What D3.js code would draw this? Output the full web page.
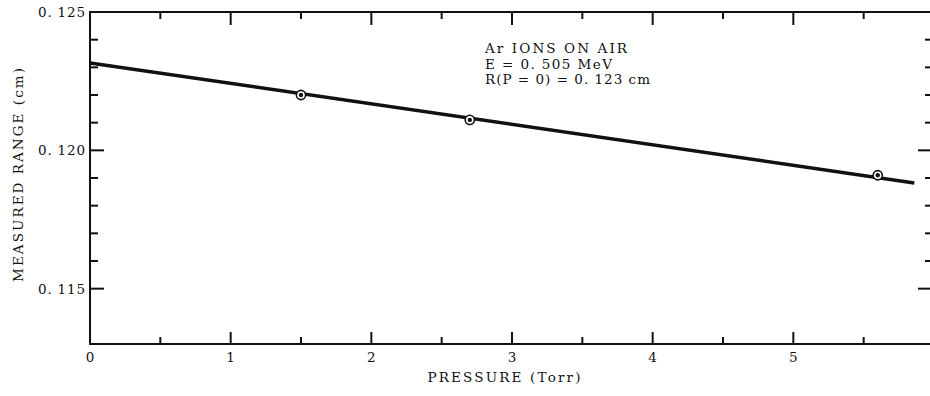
<!DOCTYPE html>
<html>
<head>
<meta charset="utf-8">
<script src="https://cdn.jsdelivr.net/npm/d3@7"></script>
<style>
  body { margin: 0; background: #fff; }
  svg { display: block; }
  text { font-family: "DejaVu Serif", "Liberation Serif", serif; fill: #111; }
</style>
</head>
<body>
<div id="chart"></div>
<script>
const width = 930
const height = 396

// measured points
const pressure = [1.5, 2.7, 5.6]
const range = [0.1220, 0.1211, 0.1191]

// fitted straight line (ends)
const fitP = [0, 5.86]
const fitR = [0.12316, 0.11882]

const xTickLabels = [0, 1, 2, 3, 4, 5, 6]
const yTickLabels = [0.115, 0.120, 0.125]
const notes = ["Ar IONS ON AIR", "E = 0.505 MeV", "R(P = 0) = 0.123 cm"]
const noteWidths = [142, 127, 165]

const x = d3.scaleLinear().domain([0, 6]).range([90, 934])
const y = d3.scaleLinear().domain([0.113, 0.125]).range([344, 12])

const svg = d3.select("#chart").append("svg")
    .attr("width", width)
    .attr("height", height)

const ink = "#111"

// frame
svg.append("path")
    .attr("d", `M${x(6) + 2},${y(0.125)} H${x(0)} V${y(0.113)} H${x(6) + 2}`)
    .attr("fill", "none")
    .attr("stroke", ink)
    .attr("stroke-width", 2)

// x ticks every 0.5, bottom and top, pointing inward
const xTicks = d3.range(0, 6.01, 0.5)
svg.append("g").selectAll("line")
    .data(xTicks.filter(d => d > 0 && d < 6))
    .enter().append("line")
    .attr("x1", d => x(d)).attr("x2", d => x(d))
    .attr("y1", y(0.113))
    .attr("y2", d => y(0.113) - (d % 1 === 0 ? 12 : 7))
    .attr("stroke", ink).attr("stroke-width", 2)

svg.append("g").selectAll("line")
    .data(xTicks.filter(d => d > 0 && d < 6))
    .enter().append("line")
    .attr("x1", d => x(d)).attr("x2", d => x(d))
    .attr("y1", y(0.125))
    .attr("y2", d => y(0.125) + (d % 1 === 0 ? 13 : 7))
    .attr("stroke", ink).attr("stroke-width", 2)

// y ticks every 0.001 from 0.115, left and right
const yTicks = d3.range(115, 125).map(d => d / 1000)
const isMajor = d => Math.round(d * 1000) % 5 === 0

svg.append("g").selectAll("line")
    .data(yTicks)
    .enter().append("line")
    .attr("x1", x(0))
    .attr("x2", d => x(0) + (isMajor(d) ? 14 : 8))
    .attr("y1", d => y(d)).attr("y2", d => y(d))
    .attr("stroke", ink).attr("stroke-width", 2)

svg.append("g").selectAll("line")
    .data(yTicks)
    .enter().append("line")
    .attr("x1", x(6))
    .attr("x2", d => x(6) - (isMajor(d) ? 16 : 9))
    .attr("y1", d => y(d)).attr("y2", d => y(d))
    .attr("stroke", ink).attr("stroke-width", 2)

// tick labels
svg.append("g").selectAll("text")
    .data(xTickLabels)
    .enter().append("text")
    .attr("x", d => x(d))
    .attr("y", y(0.113) + 18)
    .attr("text-anchor", "middle")
    .attr("font-size", 13.5)
    .text(d => d)

svg.append("g").selectAll("text")
    .data(yTickLabels)
    .enter().append("text")
    .attr("x", x(0) - 5)
    .attr("y", d => y(d) + 5)
    .attr("text-anchor", "end")
    .attr("font-size", 13.5)
    .attr("textLength", 47)
    .attr("lengthAdjust", "spacing")
    .text(d => d3.format(".3f")(d).replace(".", ". "))

// axis titles
svg.append("text")
    .attr("x", 504)
    .attr("y", 382)
    .attr("text-anchor", "middle")
    .attr("font-size", 13.5)
    .attr("textLength", 153)
    .attr("lengthAdjust", "spacing")
    .text("PRESSURE (Torr)")

svg.append("text")
    .attr("transform", "translate(23,175) rotate(-90)")
    .attr("text-anchor", "middle")
    .attr("font-size", 13.5)
    .attr("textLength", 214)
    .attr("lengthAdjust", "spacing")
    .text("MEASURED RANGE (cm)")

// annotation
svg.append("g").selectAll("text")
    .data(notes)
    .enter().append("text")
    .attr("x", 485)
    .attr("y", (d, i) => 53 + i * 15.5)
    .attr("font-size", 13.5)
    .attr("textLength", (d, i) => noteWidths[i])
    .attr("lengthAdjust", "spacing")
    .text(d => d.replace("0.", "0. "))

// fitted line
svg.append("path")
    .datum(d3.zip(fitP, fitR))
    .attr("d", d3.line().x(d => x(d[0])).y(d => y(d[1])))
    .attr("fill", "none")
    .attr("stroke", ink)
    .attr("stroke-width", 3.5)

// data points: ringed dots
const pts = svg.append("g").selectAll("g")
    .data(d3.zip(pressure, range))
    .enter().append("g")
    .attr("transform", d => `translate(${x(d[0])},${y(d[1])})`)

pts.append("circle")
    .attr("r", 4.6)
    .attr("fill", "#fff")
    .attr("stroke", ink)
    .attr("stroke-width", 1.6)

pts.append("circle")
    .attr("r", 2.2)
    .attr("fill", ink)
</script>
</body>
</html>
